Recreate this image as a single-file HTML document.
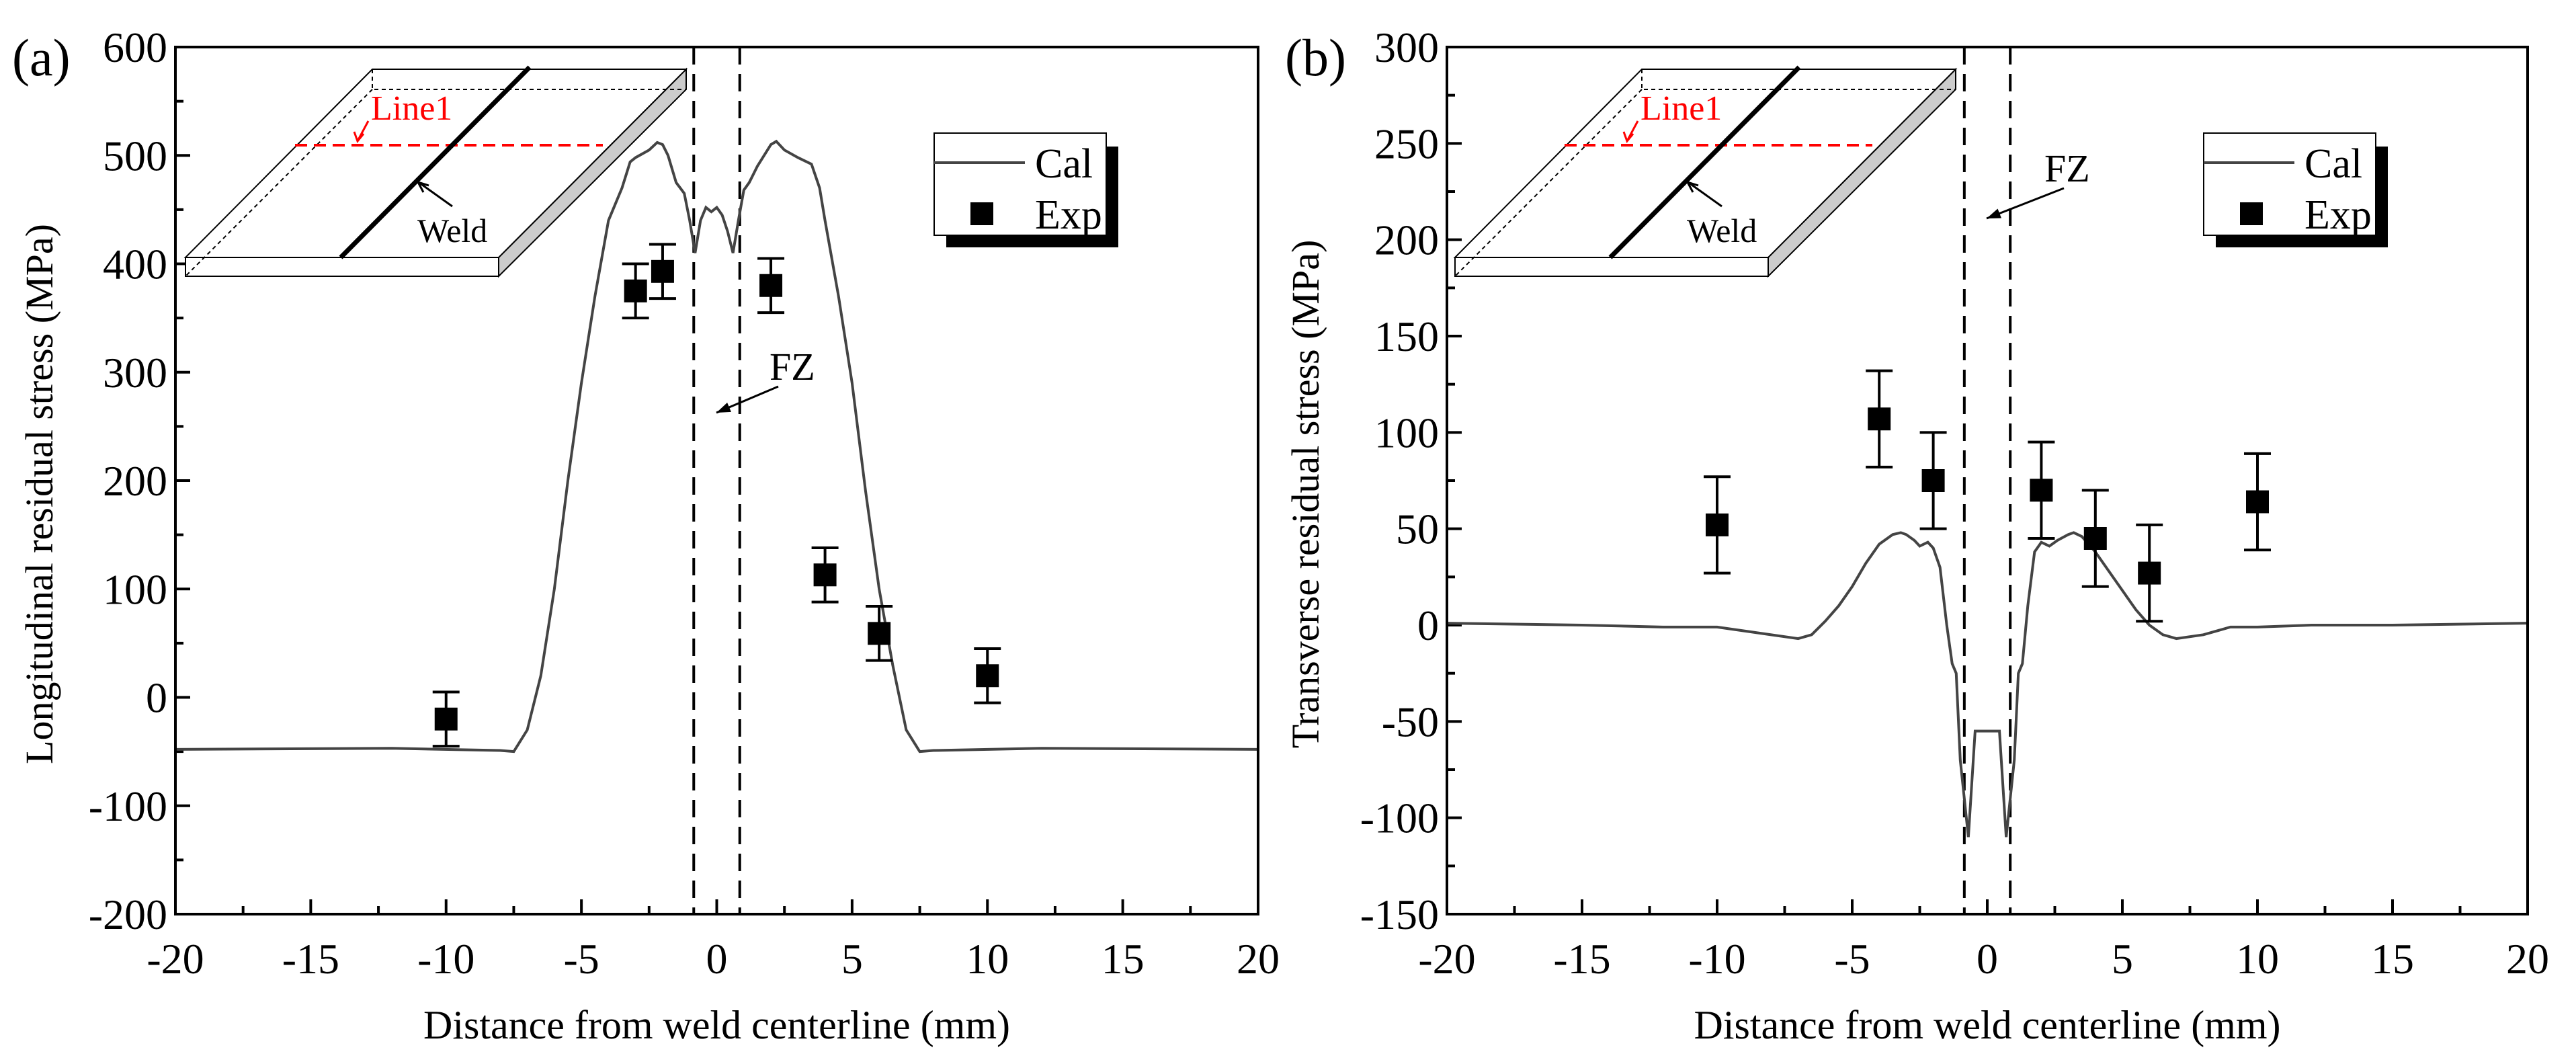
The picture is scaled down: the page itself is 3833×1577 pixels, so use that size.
<!DOCTYPE html>
<html><head><meta charset="utf-8"><style>
html,body{margin:0;padding:0;background:#fff;}
svg{display:block;font-family:"Liberation Serif",serif;}
</style></head><body>
<svg id="fig" width="3833" height="1577" viewBox="0 0 3833 1577" xmlns="http://www.w3.org/2000/svg"></svg>
<script>
// ---- Panel (a) data ----
const aCalX = [-20,-12,-8,-7.5,-7,-6.5,-6,-5.5,-5,-4.5,-4,-3.5,-3.2,-3,-2.5,-2.2,-2,-1.8,-1.5,-1.2,-1,-0.8,-0.6,-0.4,-0.2,0,0.2,0.4,0.6,0.8,1,1.2,1.5,2,2.2,2.5,3,3.5,3.8,4,4.5,5,5.5,6,6.5,7,7.5,8,12,20];
const aCalY = [-48,-47,-49,-50,-30,20,100,200,290,370,440,470,494,498,505,512,510,500,475,465,440,410,440,452,448,452,445,430,410,440,468,475,490,510,513,505,498,492,470,440,370,290,190,100,30,-30,-50,-49,-47,-48];
const aExpX = [-10,-3,-2,2,4,6,10];
const aExpY = [-20,375,393,380,113,59,20];
const aExpErr = [25,25,25,25,25,25,25];
const aYTicks = [-200,-100,0,100,200,300,400,500,600];
// ---- Panel (b) data ----
const bCalX = [-20,-15,-12,-10,-9,-8,-7,-6.5,-6,-5.5,-5,-4.5,-4,-3.5,-3.2,-3,-2.7,-2.5,-2.2,-2,-1.75,-1.5,-1.3,-1.15,-1,-0.7,-0.45,0.45,0.7,1,1.15,1.3,1.5,1.75,2,2.3,2.6,3,3.2,3.5,4,4.5,5,5.5,6,6.5,7,8,9,10,12,15,20];
const bCalY = [1,0,-1,-1,-3,-5,-7,-5,2,10,20,32,42,47,48,47,44,41,43,40,30,0,-20,-25,-70,-110,-55,-55,-110,-70,-25,-20,10,38,43,41,44,47,48,46,38,28,18,8,0,-5,-7,-5,-1,-1,0,0,1];
const bExpX = [-10,-4,-2,2,4,6,10];
const bExpY = [52,107,75,70,45,27,64];
const bExpErr = [25,25,25,25,25,25,25];
const bYTicks = [-150,-100,-50,0,50,100,150,200,250,300];
const xTicks = [-20,-15,-10,-5,0,5,10,15,20];

const NS="http://www.w3.org/2000/svg";
const svg=document.getElementById('fig');
function mk(tag,attrs,parent){const e=document.createElementNS(NS,tag);for(const k in attrs)e.setAttribute(k,attrs[k]);(parent||svg).appendChild(e);return e;}

function panel(o){
  const g=mk('g',{});
  
  
  const L=o.L,R=o.R,T=70,B=1360;
  const sx=v=>L+(v+20)/40*(R-L);
  const sy=v=>B-(v-o.ymin)/(o.ymax-o.ymin)*(B-T);
  for(let v=-20;v<=20;v+=2.5){const maj=v%5===0;
    const t=mk('line',{x1:sx(v),x2:sx(v),y1:B,y2:B-(maj?22:12),stroke:'#000','stroke-width':4},g);
    }
  xTicks.forEach(v=>{const t=mk('text',{x:sx(v),y:B+88,'font-size':64,'text-anchor':'middle'},g);t.textContent=v;
    });
  for(let v=o.ymin;v<=o.ymax;v+=o.minor){const maj=(v-o.ymin)%o.major===0;
    const t=mk('line',{x1:L,x2:L+(maj?22:12),y1:sy(v),y2:sy(v),stroke:'#000','stroke-width':4},g);
    }
  o.yt.forEach(v=>{const t=mk('text',{x:L-12,y:sy(v)+22,'font-size':64,'text-anchor':'end'},g);t.textContent=v;
    });
  [-0.85,0.85].forEach(v=>{const d=mk('line',{x1:sx(v),x2:sx(v),y1:T,y2:B,stroke:'#000','stroke-width':4,'stroke-dasharray':'26,14'},g);
    });
  const pts=o.cx.map((x,i)=>sx(x)+','+sy(o.cy[i])).join(' ');
  const c=mk('polyline',{points:pts,fill:'none',stroke:'#444','stroke-width':4},g);
  
  o.ex.forEach((x,i)=>{const X=sx(x),Y=sy(o.ey[i]),e1=sy(o.ey[i]+o.ee[i]),e2=sy(o.ey[i]-o.ee[i]);
    const eb=mk('path',{d:`M${X},${e1}V${e2}M${X-20},${e1}H${X+20}M${X-20},${e2}H${X+20}`,stroke:'#000','stroke-width':4,fill:'none'},g);
    
    const s=mk('rect',{x:X-17,y:Y-17,width:34,height:34,fill:'#000'},g);
    });
  const f=mk('rect',{x:L,y:T,width:R-L,height:B-T,fill:'none',stroke:'#000','stroke-width':4},g);
  
  const xt=mk('text',{x:(L+R)/2,y:1545,'font-size':60,'text-anchor':'middle'},g);xt.textContent='Distance from weld centerline (mm)';
  
  const yt=mk('text',{x:0,y:0,'font-size':58,'text-anchor':'middle',transform:`translate(${o.ytx},${(T+B)/2+20}) rotate(-90)`},g);yt.textContent=o.ytitle;
  
  const pl=mk('text',{x:o.plx,y:112,'font-size':78},g);pl.textContent=o.label;
  
  const dx=o.dx;
  const ins=mk('g',{transform:`translate(${dx},0)`},g);
  
  mk('polygon',{points:'1021,103 1021,133 742,411 742,383',fill:'#ccc',stroke:'#000','stroke-width':2},ins);
  mk('polygon',{points:'554,103 1021,103 742,383 276,383',fill:'#fff',stroke:'#000','stroke-width':2},ins);
  mk('rect',{x:276,y:383,width:466,height:28,fill:'#fff',stroke:'#000','stroke-width':2},ins);
  mk('path',{d:'M554,103V133H1021M554,133L276,411',fill:'none',stroke:'#000','stroke-width':2,'stroke-dasharray':'6,5'},ins);
  mk('line',{x1:439,y1:216,x2:897,y2:216,stroke:'#f00','stroke-width':4,'stroke-dasharray':'18,10'},ins);
  mk('line',{x1:788,y1:100,x2:507,y2:383,stroke:'#000','stroke-width':7},ins);
  const l1=mk('text',{x:552,y:178,'font-size':52,fill:'#f00'},ins);l1.textContent='Line1';
  mk('path',{d:'M548,180L533,208M527,196L532,210L541,199',stroke:'#f00','stroke-width':3,fill:'none'},ins);
  const wl=mk('text',{x:621,y:360,'font-size':50},ins);wl.textContent='Weld';
  mk('path',{d:'M673,307L624,272M630,286L622,271L638,276',stroke:'#000','stroke-width':3,fill:'none'},ins);
  const fz=mk('text',{x:o.fzx,y:o.fzy,'font-size':58},g);fz.textContent='FZ';
  
  mk('path',{d:`M${o.ar[0]},${o.ar[1]}L${o.ar[2]},${o.ar[3]}`,stroke:'#000','stroke-width':3,fill:'none'},g);
  const ang=Math.atan2(o.ar[3]-o.ar[1],o.ar[2]-o.ar[0]);
  const hx=o.ar[2],hy=o.ar[3];
  mk('polygon',{points:`${hx},${hy} ${hx-22*Math.cos(ang-0.35)},${hy-22*Math.sin(ang-0.35)} ${hx-22*Math.cos(ang+0.35)},${hy-22*Math.sin(ang+0.35)}`,fill:'#000'},g);
  const lg=mk('g',{transform:`translate(${dx},0)`},g);
  
  mk('rect',{x:1408,y:218,width:256,height:150,fill:'#000'},lg);
  mk('rect',{x:1390,y:198,width:256,height:152,fill:'#fff',stroke:'#000','stroke-width':2},lg);
  mk('line',{x1:1390,y1:242,x2:1525,y2:242,stroke:'#444','stroke-width':4},lg);
  const lc=mk('text',{x:1540,y:264,'font-size':62},lg);lc.textContent='Cal';
  
  mk('rect',{x:1444,y:301,width:34,height:34,fill:'#000'},lg);
  const le=mk('text',{x:1540,y:340,'font-size':62},lg);le.textContent='Exp';
  
}
panel({name:'panel-a',L:261,R:1872,ymin:-200,ymax:600,major:100,minor:50,yt:aYTicks,cx:aCalX,cy:aCalY,ex:aExpX,ey:aExpY,ee:aExpErr,
  ytitle:'Longitudinal residual stress (MPa)',ytx:78,label:'(a)',plx:18,dx:0,fzx:1145,fzy:565,ar:[1158,575,1066,614]});
panel({name:'panel-b',L:2153,R:3761,ymin:-150,ymax:300,major:50,minor:25,yt:bYTicks,cx:bCalX,cy:bCalY,ex:bExpX,ey:bExpY,ee:bExpErr,
  ytitle:'Transverse residual stress (MPa)',ytx:1962,label:'(b)',plx:1912,dx:1889,fzx:3042,fzy:270,ar:[3071,280,2956,325]});
</script>
</body></html>
